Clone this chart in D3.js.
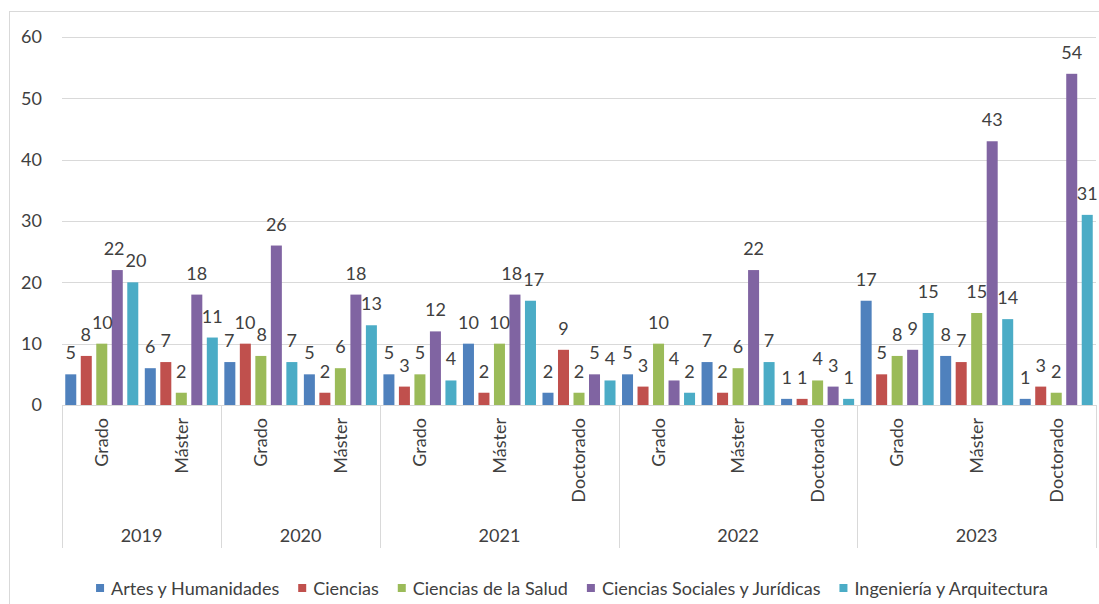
<!DOCTYPE html>
<html>
<head>
<meta charset="utf-8">
<script src="https://cdn.jsdelivr.net/npm/d3@7"></script>
<style>
  body { margin: 0; background: #fff; }
  text { font-family: Lato, "Open Sans", sans-serif; fill: #404040; }
</style>
</head>
<body>
<div id="chart"></div>
<script>
// category levels (one entry per group)
var groupYears  = ["2019","2019","2020","2020","2021","2021","2021","2022","2022","2022","2023","2023","2023"];
var groupLevels = ["Grado","Máster","Grado","Máster","Grado","Máster","Doctorado","Grado","Máster","Doctorado","Grado","Máster","Doctorado"];
var years = ["2019","2020","2021","2022","2023"];

var seriesNames = ["Artes y Humanidades","Ciencias","Ciencias de la Salud","Ciencias Sociales y Jurídicas","Ingeniería y Arquitectura"];
var artes      = [5, 6, 7, 5, 5, 10, 2, 5, 7, 1, 17, 8, 1];
var ciencias   = [8, 7, 10, 2, 3, 2, 9, 3, 2, 1, 5, 7, 3];
var salud      = [10, 2, 8, 6, 5, 10, 2, 10, 6, 4, 8, 15, 2];
var sociales   = [22, 18, 26, 18, 12, 18, 5, 4, 22, 3, 9, 43, 54];
var ingenieria = [20, 11, 7, 13, 4, 17, 4, 2, 7, 1, 15, 14, 31];
var yTicks = [0, 10, 20, 30, 40, 50, 60];

var colors = ["#4F81BD","#C0504D","#9BBB59","#8064A2","#4BACC6"];
var seriesValues = [artes, ciencias, salud, sociales, ingenieria];

var width = 1099, height = 604;
var plot = {left: 62, right: 1096, top: 37, bottom: 405};

var svg = d3.select("#chart").append("svg")
    .attr("width", width)
    .attr("height", height);

// chart border
svg.append("rect")
    .attr("x", 9.5).attr("y", 11.5)
    .attr("width", 1100).attr("height", 620)
    .attr("fill", "none")
    .attr("stroke", "#d9d9d9");

var groupIdx = d3.range(groupLevels.length);

var x0 = d3.scaleBand()
    .domain(groupIdx)
    .range([plot.left, plot.right])
    .padding(0);

var x1 = d3.scaleBand()
    .domain(d3.range(seriesNames.length))
    .range([0, x0.bandwidth()])
    .paddingInner(0.29)
    .paddingOuter(0.21);

var y = d3.scaleLinear()
    .domain([0, 60])
    .range([plot.bottom, plot.top]);

// gridlines
svg.append("g")
  .selectAll("line")
  .data(yTicks)
  .enter().append("line")
    .attr("x1", plot.left)
    .attr("x2", plot.right)
    .attr("y1", function(d) { return Math.round(y(d)) + 0.5; })
    .attr("y2", function(d) { return Math.round(y(d)) + 0.5; })
    .attr("stroke", "#d9d9d9")
    .attr("stroke-width", 1);

// y axis labels
var yAxis = svg.append("g")
    .attr("transform", "translate(" + plot.left + ",0)")
    .call(d3.axisLeft(y).tickValues(yTicks).tickSize(0).tickPadding(20));
yAxis.select(".domain").remove();
yAxis.selectAll("text")
    .style("font-size", "18px")
    .attr("fill", "#404040");

// bars
var groups = svg.append("g")
  .selectAll("g")
  .data(groupIdx)
  .enter().append("g")
    .attr("transform", function(g) { return "translate(" + x0(g) + ",0)"; });

groups.selectAll("rect")
  .data(function(g) {
    return seriesValues.map(function(vals, s) { return {s: s, v: vals[g]}; });
  })
  .enter().append("rect")
    .attr("x", function(d) { return x1(d.s); })
    .attr("y", function(d) { return y(d.v); })
    .attr("width", x1.bandwidth())
    .attr("height", function(d) { return y(0) - y(d.v); })
    .attr("fill", function(d) { return colors[d.s]; });

groups.selectAll("text")
  .data(function(g) {
    return seriesValues.map(function(vals, s) { return {s: s, v: vals[g]}; });
  })
  .enter().append("text")
    .attr("x", function(d) { return x1(d.s) + x1.bandwidth() / 2; })
    .attr("y", function(d) { return y(d.v) - 15; })
    .attr("text-anchor", "middle")
    .style("font-size", "18px")
    .text(function(d) { return d.v; });

// nudge neighbouring value labels apart when they collide (like the original)
groups.each(function() {
  var labels = d3.select(this).selectAll("text").nodes();
  for (var i = 0; i < labels.length - 1; i++) {
    var a = labels[i].getBBox(), b = labels[i + 1].getBBox();
    var overlapX = (a.x + a.width) - b.x + 1;
    var overlapY = Math.min(a.y + a.height, b.y + b.height) - Math.max(a.y, b.y);
    if (overlapX > 0 && overlapY > 2) {
      d3.select(labels[i]).attr("x", +labels[i].getAttribute("x") - overlapX / 2);
      d3.select(labels[i + 1]).attr("x", +labels[i + 1].getAttribute("x") + overlapX / 2);
    }
  }
});

// category axis
var axisG = svg.append("g");
axisG.append("line")
    .attr("x1", plot.left).attr("x2", plot.right)
    .attr("y1", plot.bottom + 0.5).attr("y2", plot.bottom + 0.5)
    .attr("stroke", "#d9d9d9");

// year separators
var yearBounds = [];
years.forEach(function(yr) {
  var idx = groupIdx.filter(function(i) { return groupYears[i] === yr; });
  yearBounds.push({year: yr, start: x0(idx[0]), end: x0(idx[idx.length - 1]) + x0.bandwidth()});
});
var sepX = [plot.left].concat(yearBounds.map(function(b) { return b.end; }));
axisG.selectAll("line.sep")
  .data(sepX)
  .enter().append("line")
    .attr("class", "sep")
    .attr("x1", function(d) { return Math.round(d) + 0.5; })
    .attr("x2", function(d) { return Math.round(d) + 0.5; })
    .attr("y1", plot.bottom)
    .attr("y2", 548)
    .attr("stroke", "#d9d9d9");

// level labels (rotated)
axisG.selectAll("text.level")
  .data(groupIdx)
  .enter().append("text")
    .attr("class", "level")
    .attr("transform", function(g) {
      return "translate(" + (x0(g) + x0.bandwidth() / 2) + ",418) rotate(-90)";
    })
    .attr("dy", "0.35em")
    .attr("text-anchor", "end")
    .style("font-size", "18px")
    .text(function(g) { return groupLevels[g]; });

// year labels
axisG.selectAll("text.year")
  .data(yearBounds)
  .enter().append("text")
    .attr("class", "year")
    .attr("x", function(d) { return (d.start + d.end) / 2; })
    .attr("y", 542)
    .attr("text-anchor", "middle")
    .style("font-size", "18px")
    .text(function(d) { return d.year; });

// legend
var legend = svg.append("g");
var items = legend.selectAll("g")
  .data(seriesNames)
  .enter().append("g");
items.append("rect")
    .attr("width", 8).attr("height", 8)
    .attr("y", 584)
    .attr("fill", function(d, i) { return colors[i]; });
items.append("text")
    .attr("x", 15)
    .attr("y", 594.5)
    .style("font-size", "18px")
    .text(function(d) { return d; });

var pos = 0, offsets = [];
items.each(function() {
  offsets.push(pos);
  var w = d3.select(this).select("text").node().getComputedTextLength();
  pos += 15 + w + 19;
});
var total = pos - 19;
var startX = 572 - total / 2;
items.attr("transform", function(d, i) { return "translate(" + (startX + offsets[i]) + ",0)"; });
</script>
</body>
</html>
